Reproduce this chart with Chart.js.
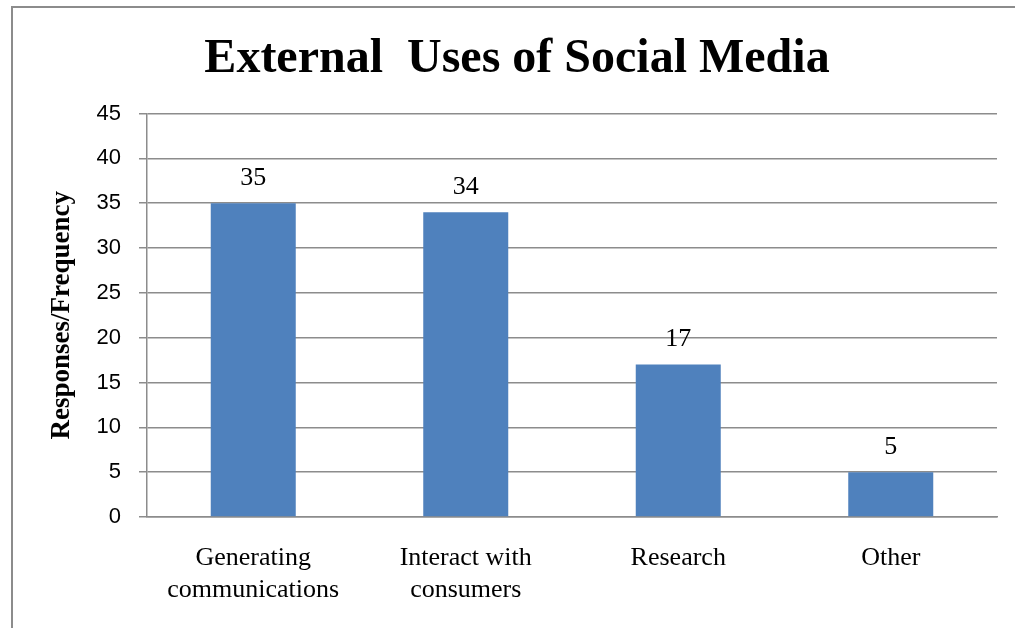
<!DOCTYPE html>
<html>
<head>
<meta charset="utf-8">
<script src="https://cdn.jsdelivr.net/npm/chart.js@4"></script>
<style>
  html, body { margin: 0; padding: 0; background: #fff; overflow: hidden; }
  #wrap { position: relative; width: 1015px; height: 628px; }
  #frame { position: absolute; left: 11px; top: 6px; width: 1100px; height: 700px; border: 2px solid #8c8c8c; box-sizing: border-box; pointer-events: none; }
  canvas { position: absolute; left: 0; top: 0; }
</style>
</head>
<body>
<div id="wrap">
  <canvas id="myChart" width="1015" height="628"></canvas>
  <div id="frame"></div>
</div>
<script>
const ctx = document.getElementById('myChart');

// chart data
const categories = [['Generating', 'communications'], ['Interact with', 'consumers'], 'Research', 'Other'];
const responses = [35, 34, 17, 5];
const yTicks = [0, 5, 10, 15, 20, 25, 30, 35, 40, 45];

const serif = '"Liberation Serif", "Times New Roman", serif';
const sans = '"Liberation Sans", Arial, sans-serif';

// draws the value above each bar
const valueLabels = {
    id: 'valueLabels',
    afterDatasetsDraw(chart) {
        const c = chart.ctx;
        const meta = chart.getDatasetMeta(0);
        c.save();
        c.font = '26px ' + serif;
        c.fillStyle = '#000';
        c.textAlign = 'center';
        c.textBaseline = 'middle';
        meta.data.forEach(function (bar, i) {
            c.fillText(String(responses[i]), bar.x, bar.y - 25);
        });
        c.restore();
    }
};

new Chart(ctx, {
    type: 'bar',
    data: {
        labels: categories,
        datasets: [
            {
                label: 'Responses',
                data: responses,
                backgroundColor: '#4F81BD',
                borderWidth: 0,
                barPercentage: 0.4,
                categoryPercentage: 1.0
            }
        ]
    },
    options: {
        responsive: false,
        animation: false,
        layout: {
            padding: { top: 6, left: 37, right: 18, bottom: 25 }
        },
        plugins: {
            legend: { display: false },
            tooltip: { enabled: false },
            title: {
                display: true,
                text: 'External  Uses of Social Media',
                color: '#000',
                font: { family: serif, size: 48, weight: 'bold' },
                padding: { top: 25, bottom: 25 }
            }
        },
        scales: {
            x: {
                grid: { display: false, drawTicks: false },
                border: { display: true, color: '#8c8c8c', width: 1.5 },
                ticks: {
                    color: '#000',
                    font: { family: serif, size: 26 },
                    padding: 26,
                    maxRotation: 0
                },
                afterFit: function (scale) {
                    scale.height = 628 - 25 - 517;
                }
            },
            y: {
                min: 0,
                max: 45,
                afterBuildTicks: function (scale) {
                    scale.ticks = yTicks.map(function (v) { return { value: v }; });
                },
                afterFit: function (scale) {
                    scale.width = 147 - 37;
                },
                grid: { color: '#8c8c8c', lineWidth: 1.5, tickLength: 8 },
                border: { display: true, color: '#8c8c8c', width: 1.5 },
                ticks: {
                    color: '#000',
                    font: { family: sans, size: 22 },
                    padding: 18
                },
                title: {
                    display: true,
                    text: 'Responses/Frequency',
                    color: '#000',
                    font: { family: serif, size: 27, weight: 'bold' },
                    padding: { top: 9, bottom: 0 }
                }
            }
        }
    },
    plugins: [valueLabels]
});
</script>
</body>
</html>
